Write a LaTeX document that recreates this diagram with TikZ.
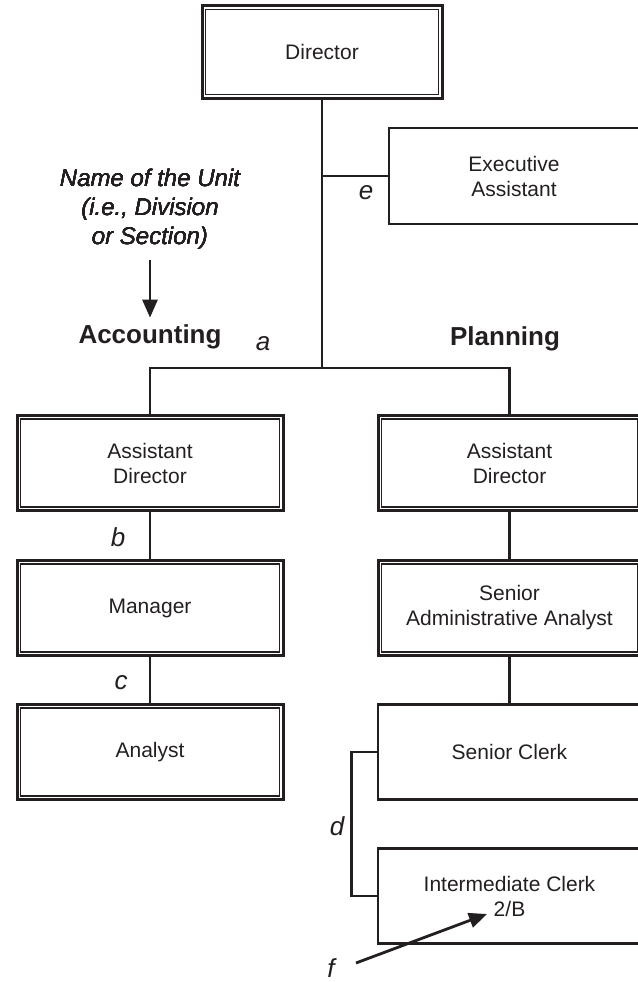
\documentclass[tikz,border=0pt]{standalone}
\usepackage{fontspec}
\setmainfont{Liberation Sans}
\usetikzlibrary{calc,arrows.meta}
\definecolor{ink}{RGB}{35,31,32}
\tikzset{
  box/.style={
    draw=ink,
    text=ink,
    align=center,
    inner sep=0pt,
    minimum height=95pt,
    font=\fontsize{21}{25}\selectfont
  },
  box-double/.style={box, line width=3pt},
  box-single/.style={box, line width=2.4pt},
  box-left/.style={minimum width=266pt},
  box-right/.style={minimum width=263pt},
  link/.style={draw=ink, line width=2.8pt, line cap=rect},
  pointer/.style={draw=ink, line width=2.8pt, -{Triangle[length=18pt,width=15pt]}},
  tag/.style={text=ink, inner sep=0pt, font=\fontsize{26}{30}\selectfont\itshape},
  unit/.style={text=ink, inner sep=0pt, font=\fontsize{26}{30}\selectfont\bfseries},
  note/.style={text=ink, inner sep=0pt, align=center, font=\fontsize{24}{29}\selectfont\itshape}
}
\newcommand{\innerframe}[1]{
  \draw[ink, line width=1.3pt] ($(#1.north west)+(5,5)$) rectangle ($(#1.south east)+(-5,-5)$);
}

\begin{document}
\begin{tikzpicture}[x=1pt,y=-1pt]
  \useasboundingbox (0,0) rectangle (637,982);
  % top of the chart
  \node[box-double, minimum width=240pt, minimum height=92pt] (dir) at (322,52) {Director};
  \node[box-single, minimum width=250pt, minimum height=96pt] (exec) at (514,176) {Executive\\Assistant};
  % left unit
  \node[box-double, box-left] (adleft) at (150,463) {Assistant\\Director};
  \node[box-double, box-left] (mgr) at (150,608) {Manager};
  \node[box-double, box-left] (anl) at (150,752) {Analyst};
  % right unit
  \node[box-double, box-right] (adright) at (509.5,463) {Assistant\\Director};
  \node[box-double, box-right] (saa) at (509.5,608) {Senior\\Administrative Analyst};
  \node[box-single, box-right] (sclerk) at (509.5,752) {Senior Clerk};
  \node[box-single, box-right] (iclerk) at (509.5,896) {Intermediate Clerk\\2/B};
  \foreach \n in {dir,adleft,mgr,anl,adright,saa}
    \innerframe{\n}
  % unit names
  \node[note] (unitnote) at (150,209) {Name of the Unit\\(i.e., Division\\or Section)};
  \node[unit] (acct) at (150,337) {Accounting};
  \node[unit] (plan) at (505,339) {Planning};
  \draw[pointer, shorten <=11pt, shorten >=7pt] (unitnote.south) -- (acct.north);
  % connectors
  \coordinate (split) at (322,368);
  \draw[link] (dir.south) -- (split);
  \draw[link] (dir.south |- exec.west) -- (exec.west);
  \draw[link] (adleft.north) |- (split) -| (adright.north);
  \draw[link] (adleft.south) -- (mgr.north);
  \draw[link] (mgr.south) -- (anl.north);
  \draw[link] (adright.south) -- (saa.north);
  \draw[link] (saa.south) -- (sclerk.north);
  \draw[link] (sclerk.west) -- ++(-25,0) |- (iclerk.west);
  % labels
  \node[tag] (la) at (263,344) {a};
  \node[tag] (lb) at (118,537) {b};
  \node[tag] (lc) at (121,683) {c};
  \node[tag] (ld) at (337,826) {d};
  \node[tag] (le) at (366,193) {e};
  \node[tag] (lf) at (331,968) {f};
  \coordinate (ftail) at (356,963);
  \coordinate (fhead) at (487,914);
  \draw[pointer] (ftail) -- (fhead);
\end{tikzpicture}
\end{document}
